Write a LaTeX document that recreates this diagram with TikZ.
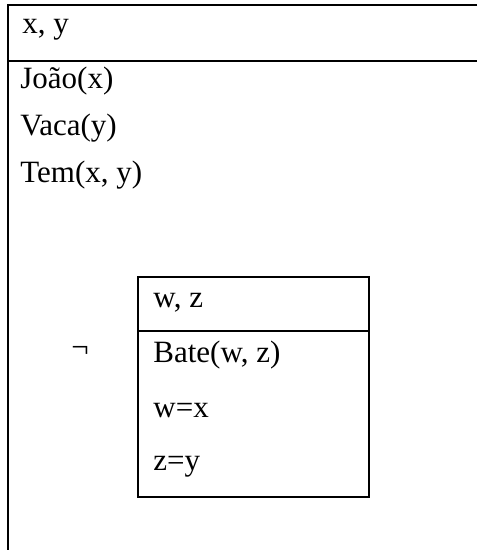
\documentclass[tikz,border=0pt]{standalone}
\usepackage{fontspec}
\setmainfont{Liberation Serif}
\usetikzlibrary{positioning}

\begin{document}
\begin{tikzpicture}[x=0.5pt,y=-0.5pt,
    drs/.style={line width=1.2pt},
    cond/.style={anchor=base west,inner sep=0pt,font=\fontsize{15.5}{18}\selectfont}]
  \useasboundingbox (0,0) rectangle (477,550);

  % outer box (open on the right and at the bottom)
  \coordinate (otl) at (8,5);
  \coordinate (otr) at (477,5);
  \coordinate (obl) at (8,550);
  \coordinate (oml) at (8,61);
  \coordinate (omr) at (477,61);
  \draw[drs] (otr) -- (otl) -- (obl);
  \draw[drs] (oml) -- (omr);

  \node[cond] (refs) at (22,34) {x, y};
  \node[cond] (joao) at (20,89) {João(x)};
  \node[cond] (vaca) at (20,136) {Vaca(y)};
  \node[cond] (tem) at (20,183) {Tem(x, y)};

  % negated sub-box
  \node[cond,anchor=center] (neg) at (80,352) {¬};
  \draw[drs] (138,277) rectangle (369,497);
  \draw[drs] (138,331) -- (369,331);

  \node[cond] (refs2) at (153,307) {w, z};
  \node[cond] (bate) at (153,362) {Bate(w, z)};
  \node[cond] (eqw) at (153,417) {w=x};
  \node[cond] (eqz) at (153,470) {z=y};
\end{tikzpicture}
\end{document}
